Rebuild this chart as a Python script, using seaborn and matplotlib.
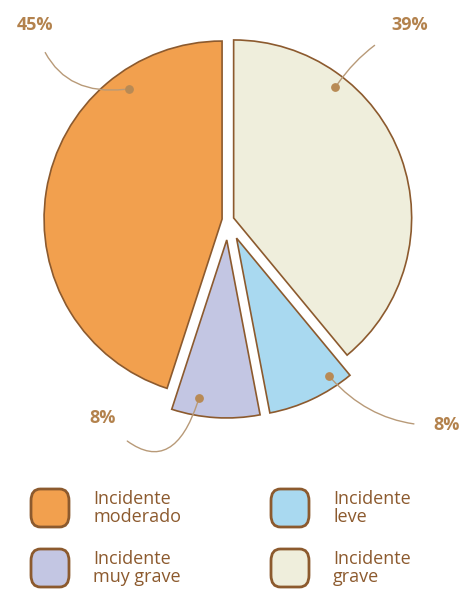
import numpy as np
import matplotlib
matplotlib.use("Agg")
import matplotlib.pyplot as plt
from matplotlib.patches import FancyBboxPatch
import seaborn as sns

# data, clockwise from the top
categories = ["Incidente grave", "Incidente leve", "Incidente muy grave", "Incidente moderado"]
values = [39, 8, 8, 45]
pct_labels = ["39%", "8%", "8%", "45%"]
colors = ["#efeedc", "#a9d9f0", "#c3c6e3", "#f2a04e"]

sns.set_theme(style="white")
plt.rcParams["font.family"] = ["Open Sans", "DejaVu Sans"]

brown = "#8c5a2e"
label_brown = "#b3824d"

fig = plt.figure(figsize=(4.69, 5.91), dpi=100)
# axes in pixel units (y up) for the top part of the figure
ax = fig.add_axes([0, 1 - 460 / 591, 1, 460 / 591])
wedges, _ = ax.pie(values, colors=colors, startangle=90, counterclock=False,
                   radius=178, center=(228, 240), explode=[6, 20, 20, 6],
                   wedgeprops=dict(edgecolor=brown, linewidth=1.2))
ax.set_xlim(0, 469)
ax.set_ylim(0, 460)
ax.set_aspect("equal")
ax.set_axis_off()

# label positions (pixels), connector curvature, dot place in each wedge
text_pos = [(410, 435), (447, 35), (103, 42), (35, 435)]
rads = [0.15, -0.25, 0.9, 0.45]
dot_ang = [0.73, 0.8, 0.28, 0.22]
dot_rad = [0.93, 0.93, 0.9, 0.9]

for w, lab, tp, rad, fa, fr in zip(wedges, pct_labels, text_pos, rads, dot_ang, dot_rad):
    a = np.deg2rad(w.theta1 + fa * (w.theta2 - w.theta1))
    cx, cy = w.center
    dx, dy = cx + fr * w.r * np.cos(a), cy + fr * w.r * np.sin(a)
    ax.scatter([dx], [dy], s=28, color="#b88a55", zorder=5)
    ax.annotate(lab, xy=(dx, dy), xytext=tp, ha="center", va="center",
                fontsize=13, fontweight="bold", color=label_brown,
                arrowprops=dict(arrowstyle="-", color="#b89a78", lw=1,
                                shrinkA=12, shrinkB=3,
                                connectionstyle=f"arc3,rad={rad}"))

# legend drawn in figure pixels: moderado, muy grave | leve, grave
leg_order = [3, 2, 1, 0]
leg_xy = [(50, 508), (50, 568), (290, 508), (290, 568)]
for i, (px, py) in zip(leg_order, leg_xy):
    fx, fy = px / 469, 1 - py / 591
    w, h = 38 / 469, 38 / 591
    box = FancyBboxPatch((fx - w / 2, fy - h / 2), w, h,
                         boxstyle="round,pad=0,rounding_size=0.02",
                         transform=fig.transFigure, facecolor=colors[i],
                         edgecolor=brown, linewidth=2)
    fig.patches.append(box)
    fig.text((px + 43) / 469, fy, categories[i].replace("Incidente ", "Incidente\n"),
             ha="left", va="center", fontsize=13, color=brown, linespacing=1.05)

fig.savefig("out.png", dpi=100)
